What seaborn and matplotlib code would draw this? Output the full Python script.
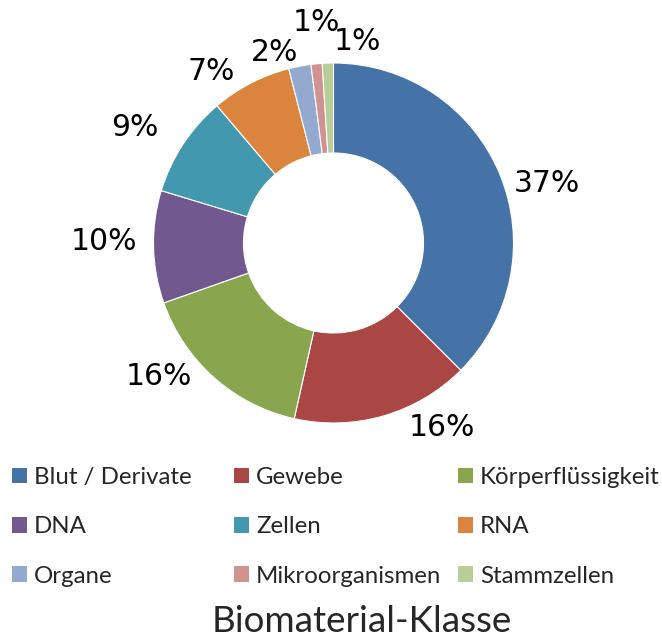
import numpy as np
import matplotlib
matplotlib.use("Agg")
import matplotlib.pyplot as plt
import seaborn as sns

# Daten
klassen = ["Blut / Derivate", "Gewebe", "Körperflüssigkeit", "DNA", "Zellen",
           "RNA", "Organe", "Mikroorganismen", "Stammzellen"]
anteile = [37.5, 16.0, 16.1, 10.1, 9.1, 7.2, 2.0, 1.0, 1.0]
beschriftung = ["37%", "16%", "16%", "10%", "9%", "7%", "2%", "1%", "1%"]
farben = ["#4572A7", "#AA4643", "#89A54E", "#71588F", "#4198AF",
          "#DB843D", "#93A9CF", "#D19392", "#B9CD96"]

sns.set_theme(style="white")
plt.rcParams['font.family'] = ['DejaVu Sans']
palette = sns.color_palette(farben)

fig = plt.figure(figsize=(6.62, 6.42), dpi=100)
ax = fig.add_axes([153.5 / 662, (642 - 243 - 180) / 642, 360 / 662, 360 / 642])

wedges, texts = ax.pie(anteile, colors=palette, startangle=90, counterclock=False,
                       labels=beschriftung, labeldistance=1.2,
                       wedgeprops=dict(width=0.5, edgecolor="white", linewidth=0.8),
                       textprops=dict(fontsize=21.5, color="black", family=['DejaVu Sans']))
ax.set_xlim(-1, 1)
ax.set_ylim(-1, 1)
ax.set_aspect("equal")
ax.axis("off")

# Excel-"Optimale Position" nachbilden: Winkelversatz (Grad) und Radius je Beschriftung
winkel_versatz = [-6.8, 14.2, -11.1, -1.6, 3.1, 8.2, 6.5, -0.9, -8.5]
radius = [1.23, 1.19, 1.22, 1.275, 1.28, 1.17, 1.11, 1.23, 1.125]
for w, t, dw, r in zip(wedges, texts, winkel_versatz, radius):
    mitte = np.deg2rad((w.theta1 + w.theta2) / 2 + dw)
    t.set_position((r * np.cos(mitte), r * np.sin(mitte)))
    t.set_ha("center")
    t.set_va("center")
    t.set_clip_on(False)

# Legende in drei Spalten (wie in Excel, feste Spaltenbreiten)
schrift = ['Lato', 'DejaVu Sans']
legend_font = dict(family=schrift, size=17.3)
spalten_x = [12 / 662, 234 / 662, 458 / 662]
for i, x in enumerate(spalten_x):
    idx = list(range(i, len(klassen), 3))
    leg = fig.legend([wedges[j] for j in idx], [klassen[j] for j in idx],
                     loc="upper left", bbox_to_anchor=(x, 0.2726), frameon=False,
                     prop=legend_font, handlelength=0.62, handleheight=0.62,
                     handletextpad=0.3, labelspacing=1.18, borderpad=0, borderaxespad=0)
    for h in leg.legend_handles:
        h.set_edgecolor("none")

fig.text(362 / 662, 1 - 622 / 642, "Biomaterial-Klasse", ha="center", va="center",
         fontsize=26.5, family=schrift)

fig.savefig("out.png", dpi=100, facecolor="white")
